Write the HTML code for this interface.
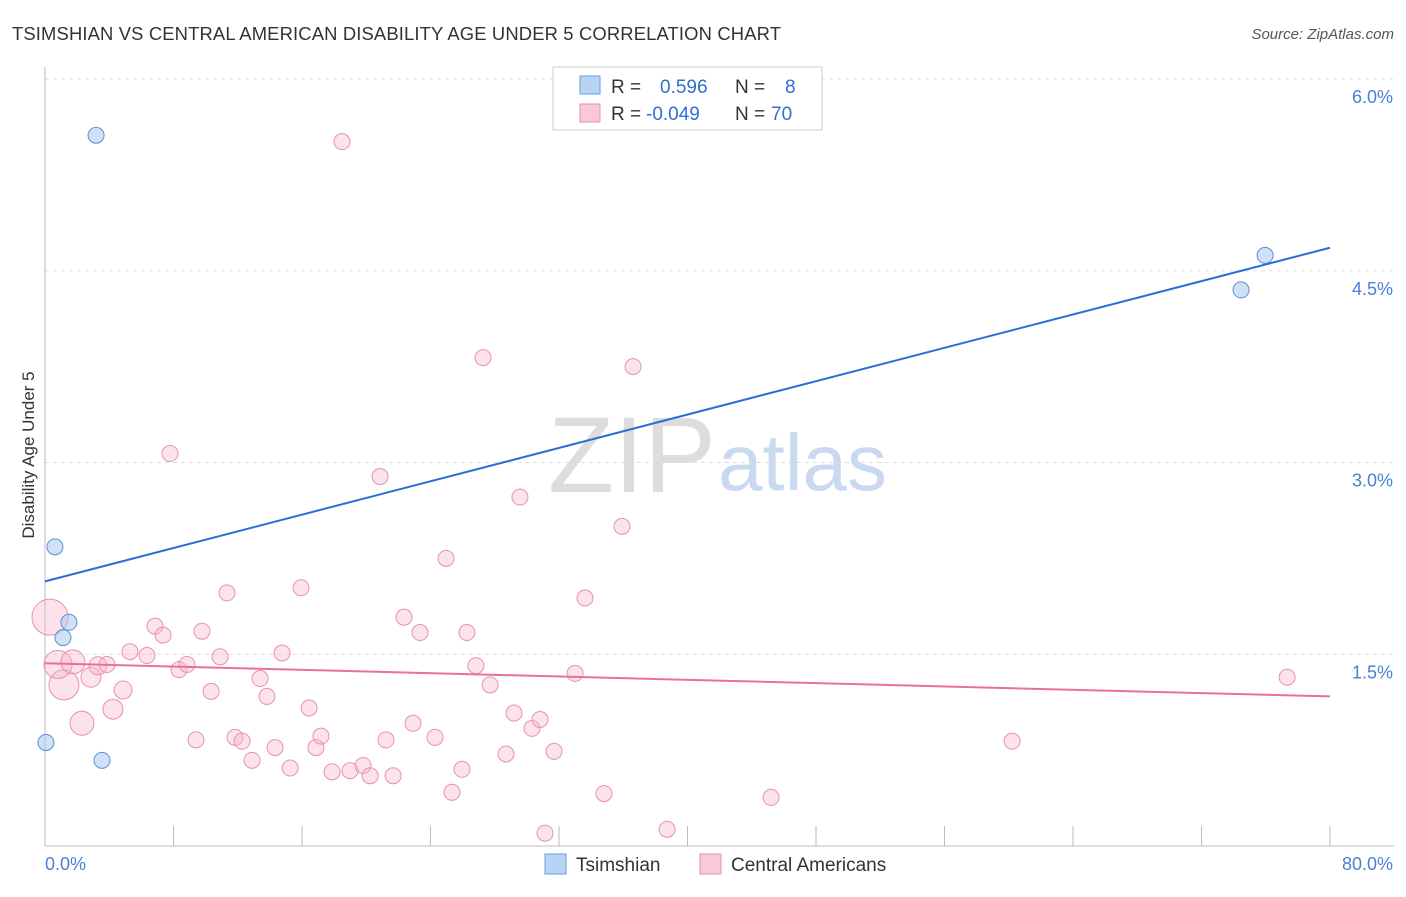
<!DOCTYPE html>
<html><head><meta charset="utf-8"><style>
body{margin:0;background:#fff;font-family:"Liberation Sans",sans-serif}
svg text{font-family:"Liberation Sans",sans-serif}
</style></head><body>
<svg id="c" width="1406" height="892" xmlns="http://www.w3.org/2000/svg">
<text x="12" y="40" font-size="18.4" letter-spacing="0.15" fill="#333">TSIMSHIAN VS CENTRAL AMERICAN DISABILITY AGE UNDER 5 CORRELATION CHART</text>
<text x="1394" y="39" font-size="15" fill="#555" font-style="italic" text-anchor="end">Source: ZipAtlas.com</text>
<text x="716" y="492" font-size="108" fill="#ddd" text-anchor="end" font-family="Liberation Serif">ZIP</text>
<text x="718" y="490" font-size="80" fill="#c8d9f0">atlas</text>
<text transform="translate(34,455) rotate(-90)" font-size="17" fill="#333" text-anchor="middle">Disability Age Under 5</text>
<g id="grid"></g><g id="pts"></g><g id="lines"></g>
<rect x="553" y="67" width="269" height="63" fill="#fff" stroke="#ccc"/>
<rect x="580" y="76" width="20" height="18" fill="#b8d4f5" stroke="#6a9fe0"/>
<rect x="580" y="104" width="20" height="18" fill="#fbc8d8" stroke="#e890ac"/>
<text x="611" y="93" font-size="19" fill="#333">R = <tspan fill="#2f6fd0" x="660">0.596</tspan><tspan x="735" fill="#333">N =</tspan><tspan x="785" fill="#2f6fd0">8</tspan></text>
<text x="611" y="120" font-size="19" fill="#333">R = <tspan fill="#2f6fd0" x="646">-0.049</tspan><tspan x="735" fill="#333">N =</tspan><tspan x="771" fill="#2f6fd0">70</tspan></text>
<rect x="545" y="854" width="21" height="20" fill="#b8d4f5" stroke="#6a9fe0"/>
<text x="576" y="871" font-size="19" fill="#333">Tsimshian</text>
<rect x="700" y="854" width="21" height="20" fill="#fbc8d8" stroke="#e890ac"/>
<text x="731" y="871" font-size="19" fill="#333">Central Americans</text>
</svg>
<script>
const yTicks=[1.5,3.0,4.5,6.0];
const yTickLabels=["1.5%","3.0%","4.5%","6.0%"];
const xTicks=[0,8,16,24,32,40,48,56,64,72,80];
const blueX=[3.18,0.62,1.49,1.12,0.06,3.55,75.96,74.46];
const blueY=[5.56,2.34,1.75,1.63,0.81,0.67,4.62,4.35];
const pinkX=[0.31,1.18,0.81,1.74,2.30,2.86,4.23,4.86,3.30,3.86,5.29,6.35,6.85,7.35,7.78,8.34,8.84,9.40,10.34,9.77,10.90,11.33,11.83,12.27,12.89,13.39,13.82,14.32,14.76,15.26,15.94,16.44,16.87,17.18,17.87,18.49,18.99,19.80,20.24,20.86,21.23,21.67,22.35,22.91,23.35,24.28,24.97,25.34,25.96,26.27,26.83,27.27,27.71,28.70,29.20,29.57,30.32,30.82,31.13,31.69,33.00,33.62,34.80,35.92,36.61,38.73,45.20,60.21,77.33];
const pinkY=[1.79,1.26,1.42,1.44,0.96,1.32,1.07,1.22,1.41,1.42,1.52,1.49,1.72,1.65,3.07,1.38,1.42,0.83,1.21,1.68,1.48,1.98,0.85,0.82,0.67,1.31,1.17,0.77,1.51,0.61,2.02,1.08,0.77,0.86,0.58,5.51,0.59,0.63,0.55,2.89,0.83,0.55,1.79,0.96,1.67,0.85,2.25,0.42,0.60,1.67,1.41,3.82,1.26,0.72,1.04,2.73,0.92,0.99,0.10,0.74,1.35,1.94,0.41,2.50,3.75,0.13,0.38,0.82,1.32];
const pinkWeight=[18,15,14,12,12,10,10,9,9,8];
const blueFit=[2.07,4.68];
const pinkFit=[1.43,1.17];
const X=v=>45+v/80*1285, Y=v=>846-v/6*767;
const NS="http://www.w3.org/2000/svg";
function mk(t,a,p){const e=document.createElementNS(NS,t);for(const k in a)e.setAttribute(k,a[k]);p.appendChild(e);return e;}
const g=document.getElementById('grid');
yTicks.forEach((v,i)=>{
 const l=mk('line',{x1:45,x2:1394,y1:Y(v),y2:Y(v),stroke:'#ddd','stroke-dasharray':'4,4'},g);
 
 
 const t=mk('text',{x:1393,y:Y(v)+24,'font-size':18,fill:'#4a7fd6','text-anchor':'end'},g);t.textContent=yTickLabels[i];
 
 
});
const ax=mk('line',{x1:45,x2:1394,y1:846,y2:846,stroke:'#bbb'},g);


const ay=mk('line',{x1:45,x2:45,y1:67,y2:846,stroke:'#bbb'},g);


xTicks.forEach(v=>{const l=mk('line',{x1:X(v),x2:X(v),y1:826,y2:846,stroke:'#bbb'},g);
 
 });
const t0=mk('text',{x:45,y:870,'font-size':18,fill:'#4a7fd6'},g);t0.textContent="0.0%";


const t1=mk('text',{x:1393,y:870,'font-size':18,fill:'#4a7fd6','text-anchor':'end'},g);t1.textContent="80.0%";


const p=document.getElementById('pts');
pinkX.forEach((v,i)=>{const c=mk('circle',{cx:X(v),cy:Y(pinkY[i]),r:pinkWeight[i]||8,fill:'rgba(248,180,202,0.38)',stroke:'#e891ae','stroke-width':1},p);
 
 });
blueX.forEach((v,i)=>{const c=mk('circle',{cx:X(v),cy:Y(blueY[i]),r:8,fill:'rgba(170,200,240,0.55)',stroke:'#5b8fd8','stroke-width':1},p);
 
 });
const L=document.getElementById('lines');
const bl=mk('line',{x1:X(0),y1:Y(blueFit[0]),x2:X(80),y2:Y(blueFit[1]),stroke:'#2a6fd6','stroke-width':2},L);


const pl=mk('line',{x1:X(0),y1:Y(pinkFit[0]),x2:X(80),y2:Y(pinkFit[1]),stroke:'#e8709a','stroke-width':2},L);


</script>
</body></html>
